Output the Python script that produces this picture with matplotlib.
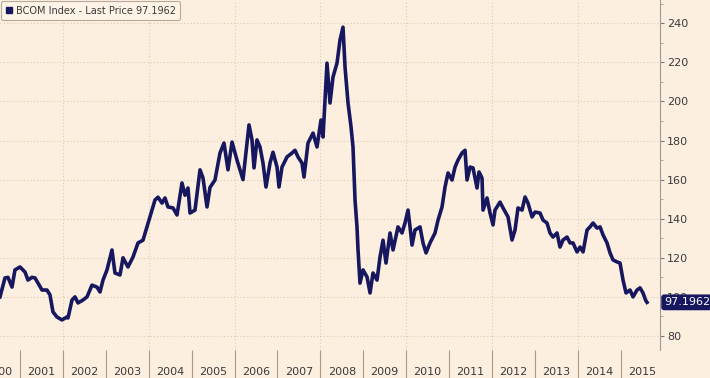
import matplotlib.pyplot as plt
from matplotlib.lines import Line2D
from matplotlib.ticker import MultipleLocator, FixedLocator, NullFormatter

# BCOM Index, values (year fraction, index level)
years = [
    2000.534, 2000.650, 2000.720, 2000.814, 2000.883, 2001.000, 2001.117, 2001.186,
    2001.280, 2001.350, 2001.420, 2001.513, 2001.629, 2001.699, 2001.769, 2001.862,
    2001.979, 2002.096, 2002.119, 2002.212, 2002.282, 2002.352, 2002.469, 2002.562,
    2002.678, 2002.795, 2002.865, 2002.935, 2003.028, 2003.144, 2003.214, 2003.331,
    2003.401, 2003.517, 2003.634, 2003.751, 2003.867, 2003.960, 2004.030, 2004.147,
    2004.217, 2004.310, 2004.380, 2004.450, 2004.566, 2004.660, 2004.776, 2004.846,
    2004.916, 2004.963, 2005.079, 2005.196, 2005.266, 2005.359, 2005.429, 2005.545,
    2005.662, 2005.755, 2005.848, 2005.942, 2006.058, 2006.128, 2006.198, 2006.291,
    2006.338, 2006.408, 2006.455, 2006.524, 2006.594, 2006.664, 2006.734, 2006.828,
    2006.897, 2006.991, 2007.037, 2007.107, 2007.224, 2007.340, 2007.410, 2007.480,
    2007.573, 2007.620, 2007.713, 2007.830, 2007.923, 2008.016, 2008.063, 2008.156,
    2008.226, 2008.296, 2008.389, 2008.459, 2008.529, 2008.576, 2008.646, 2008.716,
    2008.762, 2008.809, 2008.855, 2008.879, 2008.925, 2008.995, 2009.089, 2009.159,
    2009.228, 2009.322, 2009.392, 2009.462, 2009.531, 2009.625, 2009.695, 2009.811,
    2009.904, 2009.974, 2010.044, 2010.091, 2010.138, 2010.207, 2010.324, 2010.394,
    2010.464, 2010.557, 2010.674, 2010.744, 2010.837, 2010.907, 2010.977, 2011.070,
    2011.140, 2011.210, 2011.303, 2011.373, 2011.420, 2011.490, 2011.559, 2011.653,
    2011.699, 2011.769, 2011.793, 2011.886, 2011.956, 2012.026, 2012.072, 2012.189,
    2012.259, 2012.375, 2012.469, 2012.538, 2012.608, 2012.702, 2012.772, 2012.841,
    2012.935, 2013.005, 2013.121, 2013.191, 2013.284, 2013.354, 2013.424, 2013.517,
    2013.587, 2013.657, 2013.751, 2013.821, 2013.890, 2013.984, 2014.054, 2014.124,
    2014.217, 2014.287, 2014.357, 2014.450, 2014.520, 2014.590, 2014.683, 2014.753,
    2014.823, 2014.916, 2014.986, 2015.056, 2015.126, 2015.219, 2015.289, 2015.382,
    2015.452, 2015.522, 2015.580, 2015.615,
]
values = [
    100.0, 109.7, 110.0, 105.0, 113.8, 115.3, 112.7, 108.6,
    110.0, 109.7, 107.0, 103.5, 103.5, 101.0, 92.3, 89.7,
    88.2, 89.7, 89.2, 98.4, 100.0, 96.9, 98.4, 100.0,
    106.0, 105.0, 102.5, 108.6, 113.8, 124.0, 112.2, 111.2,
    120.0, 115.3, 120.4, 127.6, 129.0, 135.8, 140.9, 149.6,
    151.0, 148.0, 150.6, 146.0, 145.5, 141.9, 158.3, 152.0,
    155.7, 142.9, 144.4, 165.0, 160.8, 146.0, 156.0, 159.8,
    173.6, 178.7, 165.0, 179.2, 170.0, 165.0, 160.0, 178.7,
    188.0, 180.3, 166.0, 180.3, 176.7, 168.5, 156.2, 168.5,
    174.0, 166.4, 156.2, 166.4, 171.6, 173.6, 175.0, 171.6,
    168.5, 161.3, 178.7, 183.8, 176.7, 190.5, 181.8, 219.6,
    199.2, 212.5, 219.6, 231.4, 238.0, 217.6, 199.2, 187.0,
    176.7, 149.6, 135.8, 124.0, 107.0, 113.8, 110.2, 102.0,
    112.2, 108.6, 120.4, 129.0, 117.3, 132.7, 124.0, 135.8,
    132.7, 137.8, 144.4, 135.8, 126.5, 134.2, 135.8, 127.6,
    122.5, 127.6, 132.7, 139.3, 146.0, 156.2, 163.4, 159.8,
    166.4, 170.0, 173.6, 175.0, 159.8, 166.4, 166.0, 155.7,
    163.9, 160.8, 144.4, 150.6, 142.9, 136.8, 144.4, 148.5,
    145.5, 140.9, 129.1, 134.2, 145.5, 144.4, 151.1, 148.0,
    140.9, 143.4, 142.9, 139.3, 137.8, 132.7, 130.6, 132.7,
    125.5, 129.1, 130.6, 127.6, 127.6, 123.0, 125.5, 123.0,
    134.2, 135.8, 137.8, 135.2, 135.8, 131.7, 127.6, 122.5,
    118.9, 117.9, 117.3, 108.6, 102.0, 103.5, 100.0, 103.5,
    104.6, 102.0, 98.4, 97.1962,
]
year_labels = list(range(2000, 2016))
grid_years = [2002, 2004, 2006, 2008, 2010, 2012, 2014]
series_name = "BCOM Index - Last Price"
last_price = 97.1962

bg = "#fdefdf"
navy = "#17175f"
text_col = "#3a3a3a"
tick_col = "#a89a8a"
grid_col = "#dccab3"

fig = plt.figure(figsize=(7.1, 3.78), dpi=100, facecolor=bg)
ax = fig.add_axes([0, 0.074, 0.9296, 0.926])
ax.set_facecolor(bg)

ax.plot(years, values, color=navy, lw=2.6, solid_joinstyle="round", zorder=3)
ax.set_xlim(2000.534, 2015.918)
ax.set_ylim(72.8, 251.9)

# y axis on the right
ax.yaxis.tick_right()
ax.yaxis.set_major_locator(MultipleLocator(20))
ax.yaxis.set_minor_locator(MultipleLocator(10))
ax.tick_params(axis="y", which="major", length=3, color="#777777",
               labelsize=8, labelcolor=text_col, pad=2)
ax.tick_params(axis="y", which="minor", length=2, color="#999999")
ax.grid(axis="y", which="major", color=grid_col, linestyle=(0, (1, 2)), lw=0.8)

# vertical grid every two years
for gy in grid_years:
    ax.axvline(gy, color=grid_col, linestyle=(0, (1, 2)), lw=0.8, zorder=1)

# x axis: separators at year boundaries, labels centred in each year
ax.xaxis.set_major_locator(FixedLocator(year_labels[1:]))
ax.xaxis.set_major_formatter(NullFormatter())
ax.tick_params(axis="x", which="major", length=20, width=0.8, color=tick_col,
               direction="out")
for yr in year_labels:
    ax.text(yr + 0.5, -0.063, str(yr), transform=ax.get_xaxis_transform(),
            ha="center", va="center", fontsize=8, color=text_col, clip_on=False)

for side in ["top", "left", "bottom"]:
    ax.spines[side].set_visible(False)
ax.spines["right"].set_color("#9a9a9a")
ax.spines["right"].set_linewidth(0.8)

# legend box
handle = Line2D([], [], color=navy, marker="s", linestyle="none", markersize=4)
leg = ax.legend([handle], [f"{series_name} {last_price:.4f}"], loc="upper left",
                bbox_to_anchor=(0.0, 1.0), borderaxespad=0.15, fontsize=7,
                handlelength=0.6, handletextpad=0.4, borderpad=0.45,
                fancybox=True, framealpha=1)
leg.get_frame().set_facecolor("#fdf3e6")
leg.get_frame().set_edgecolor("#b5aa9c")
leg.get_frame().set_linewidth(0.8)
for t in leg.get_texts():
    t.set_color(text_col)

# last price tag
ax.annotate(f"{last_price:.4f}", xy=(1.0, last_price),
            xycoords=("axes fraction", "data"), xytext=(3, 0),
            textcoords="offset points", ha="left", va="center",
            fontsize=8, color="white", zorder=10, annotation_clip=False,
            bbox=dict(boxstyle="round,pad=0.2", fc=navy, ec=navy))

fig.savefig("out.png", dpi=100, facecolor=bg)
